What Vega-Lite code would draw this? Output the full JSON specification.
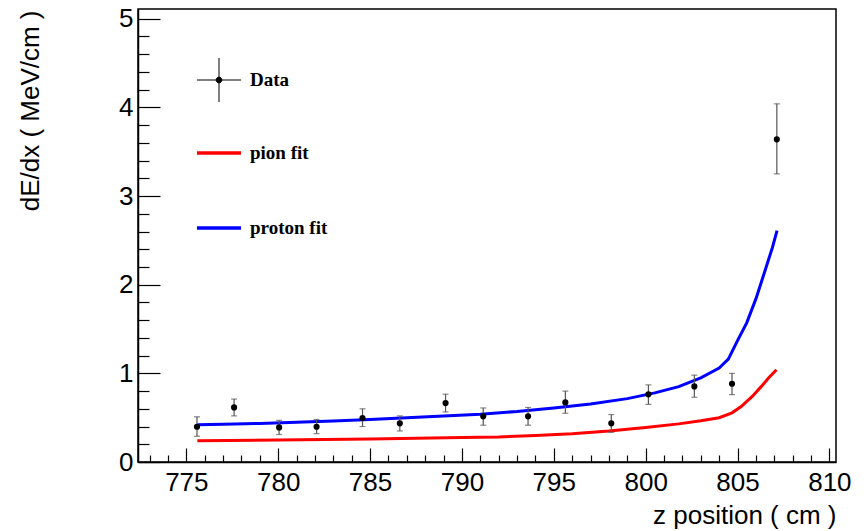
{
  "$schema": "https://vega.github.io/schema/vega-lite/v6.json",
  "width": 698,
  "height": 453,
  "autosize": "none",
  "padding": {"left": 138, "top": 9, "right": 30, "bottom": 69},
  "background": "white",
  "config": {
    "view": {"stroke": "black", "strokeWidth": 1.5},
    "axis": {"grid": false, "domainColor": "black", "domainWidth": 1.5, "tickColor": "black", "tickWidth": 1.2, "tickCount": 200, "labelFont": "Liberation Sans", "labelFontSize": 26, "labelColor": "black", "titleFont": "Liberation Sans", "titleFontSize": 26, "titleFontWeight": "normal", "titleColor": "black", "labelOverlap": false, "labelFlush": false, "labelBound": false}
  },
  "datasets": {
    "points": [
      {"z": 775.58, "v": 0.398, "lo": 0.29, "hi": 0.51, "series": "Data"},
      {"z": 777.6, "v": 0.616, "lo": 0.52, "hi": 0.71, "series": "Data"},
      {"z": 780.05, "v": 0.39, "lo": 0.31, "hi": 0.47, "series": "Data"},
      {"z": 782.09, "v": 0.398, "lo": 0.32, "hi": 0.48, "series": "Data"},
      {"z": 784.59, "v": 0.496, "lo": 0.4, "hi": 0.6, "series": "Data"},
      {"z": 786.62, "v": 0.436, "lo": 0.35, "hi": 0.52, "series": "Data"},
      {"z": 789.11, "v": 0.665, "lo": 0.565, "hi": 0.765, "series": "Data"},
      {"z": 791.16, "v": 0.515, "lo": 0.415, "hi": 0.61, "series": "Data"},
      {"z": 793.6, "v": 0.515, "lo": 0.415, "hi": 0.615, "series": "Data"},
      {"z": 795.63, "v": 0.672, "lo": 0.55, "hi": 0.8, "series": "Data"},
      {"z": 798.13, "v": 0.436, "lo": 0.335, "hi": 0.535, "series": "Data"},
      {"z": 800.15, "v": 0.763, "lo": 0.65, "hi": 0.87, "series": "Data"},
      {"z": 802.65, "v": 0.853, "lo": 0.73, "hi": 0.98, "series": "Data"},
      {"z": 804.7, "v": 0.883, "lo": 0.76, "hi": 1.0, "series": "Data"},
      {"z": 807.14, "v": 3.64, "lo": 3.25, "hi": 4.04, "series": "Data"}
    ],
    "fits": [
      {"z": 775.6, "dedx": 0.24, "series": "pion fit"},
      {"z": 780, "dedx": 0.247, "series": "pion fit"},
      {"z": 785, "dedx": 0.26, "series": "pion fit"},
      {"z": 790, "dedx": 0.276, "series": "pion fit"},
      {"z": 792, "dedx": 0.283, "series": "pion fit"},
      {"z": 794, "dedx": 0.3, "series": "pion fit"},
      {"z": 796, "dedx": 0.32, "series": "pion fit"},
      {"z": 798, "dedx": 0.35, "series": "pion fit"},
      {"z": 800, "dedx": 0.39, "series": "pion fit"},
      {"z": 801.8, "dedx": 0.43, "series": "pion fit"},
      {"z": 803, "dedx": 0.465, "series": "pion fit"},
      {"z": 804, "dedx": 0.5, "series": "pion fit"},
      {"z": 804.7, "dedx": 0.555, "series": "pion fit"},
      {"z": 805.2, "dedx": 0.625, "series": "pion fit"},
      {"z": 805.8, "dedx": 0.74, "series": "pion fit"},
      {"z": 806.3, "dedx": 0.853, "series": "pion fit"},
      {"z": 806.7, "dedx": 0.95, "series": "pion fit"},
      {"z": 807.12, "dedx": 1.04, "series": "pion fit"},
      {"z": 775.6, "dedx": 0.42, "series": "proton fit"},
      {"z": 777, "dedx": 0.425, "series": "proton fit"},
      {"z": 779, "dedx": 0.435, "series": "proton fit"},
      {"z": 781, "dedx": 0.447, "series": "proton fit"},
      {"z": 783, "dedx": 0.462, "series": "proton fit"},
      {"z": 785, "dedx": 0.48, "series": "proton fit"},
      {"z": 787, "dedx": 0.5, "series": "proton fit"},
      {"z": 789, "dedx": 0.52, "series": "proton fit"},
      {"z": 791, "dedx": 0.54, "series": "proton fit"},
      {"z": 793, "dedx": 0.57, "series": "proton fit"},
      {"z": 795, "dedx": 0.61, "series": "proton fit"},
      {"z": 797, "dedx": 0.655, "series": "proton fit"},
      {"z": 799, "dedx": 0.715, "series": "proton fit"},
      {"z": 800.5, "dedx": 0.78, "series": "proton fit"},
      {"z": 801.8, "dedx": 0.85, "series": "proton fit"},
      {"z": 803, "dedx": 0.95, "series": "proton fit"},
      {"z": 804, "dedx": 1.06, "series": "proton fit"},
      {"z": 804.5, "dedx": 1.16, "series": "proton fit"},
      {"z": 805, "dedx": 1.37, "series": "proton fit"},
      {"z": 805.5, "dedx": 1.57, "series": "proton fit"},
      {"z": 806, "dedx": 1.84, "series": "proton fit"},
      {"z": 806.5, "dedx": 2.16, "series": "proton fit"},
      {"z": 806.9, "dedx": 2.42, "series": "proton fit"},
      {"z": 807.15, "dedx": 2.61, "series": "proton fit"}
    ]
  },
  "layer": [
    {
      "data": {"name": "fits"},
      "mark": {"type": "line", "strokeWidth": 3, "clip": true},
      "encoding": {
        "x": {
          "field": "z", "type": "quantitative",
          "scale": {"domain": [772.37, 810.36], "nice": false, "zero": false},
          "axis": {
            "title": "z position ( cm )",
            "values": [773,774,775,776,777,778,779,780,781,782,783,784,785,786,787,788,789,790,791,792,793,794,795,796,797,798,799,800,801,802,803,804,805,806,807,808,809,810],
            "tickCount": 200,
            "format": "d",
            "labelExpr": "datum.value % 5 === 0 ? datum.label : ''",
            "tickSize": {"condition": {"test": "datum.value % 5 === 0", "value": -14}, "value": -7},
            "labelPadding": 21,
            "labelBaseline": "top",
            "titleAnchor": "end",
            "titleAlign": "right",
            "titleBaseline": "alphabetic",
            "titleX": 698,
            "titleY": 61
          }
        },
        "y": {
          "field": "dedx", "type": "quantitative",
          "scale": {"domain": [0, 5.11], "nice": false, "zero": false},
          "axis": {
            "title": "dE/dx ( MeV/cm )",
            "values": [0,0.2,0.4,0.6,0.8,1,1.2,1.4,1.6,1.8,2,2.2,2.4,2.6,2.8,3,3.2,3.4,3.6,3.8,4,4.2,4.4,4.6,4.8,5],
            "tickCount": 200,
            "labelExpr": "abs(datum.value - round(datum.value)) < 0.01 ? format(datum.value, 'd') : ''",
            "tickSize": {"condition": {"test": "abs(datum.value - round(datum.value)) < 0.01", "value": -22}, "value": -11},
            "labelPadding": 27,
            "labelAlign": "right",
            "labelBaseline": "middle",
            "titleAnchor": "end",
            "titleAngle": -90,
            "titleAlign": "right",
            "titleBaseline": "alphabetic",
            "titleX": -100,
            "titleY": 1
          }
        },
        "color": {
          "field": "series", "type": "nominal",
          "scale": {"domain": ["Data", "pion fit", "proton fit"], "range": ["black", "#ff0000", "#0000ff"]},
          "legend": {
            "title": null,
            "orient": "none",
            "legendX": 59,
            "legendY": 49,
            "padding": 0,
            "rowPadding": 23,
            "labelOffset": 9,
            "labelFont": "Liberation Serif",
            "labelFontWeight": "bold",
            "labelFontSize": 19,
            "labelColor": "black",
            "labelLimit": 0,
            "symbolSize": 1936,
            "symbolStrokeWidth": 1,
            "encode": {
              "symbols": {
                "update": {
                  "shape": {"signal": "datum.value === 'Data' ? 'M-1,0H1M0,-1V1M0,-0.13A0.13,0.13,0,1,1,0,0.13A0.13,0.13,0,1,1,0,-0.13Z' : 'M0,-0.84M-1,0H1M0,0.84'"},
                  "size": {"value": 1936},
                  "x": {"value": 22},
                  "y": {"value": 22},
                  "strokeWidth": {"signal": "datum.value === 'Data' ? 1 : 3.5"},
                  "stroke": {"signal": "datum.value === 'Data' ? '#333' : (datum.value === 'pion fit' ? '#ff0000' : '#0000ff')"},
                  "fill": {"signal": "datum.value === 'Data' ? 'black' : 'transparent'"},
                  "opacity": {"value": 1},
                  "strokeOpacity": {"value": 1},
                  "fillOpacity": {"value": 1}
                }
              },
              "labels": {
                "update": {
                  "x": {"value": 53},
                  "y": {"value": 22},
                  "baseline": {"value": "middle"}
                }
              }
            }
          }
        }
      }
    },
    {
      "data": {"name": "points"},
      "mark": {"type": "rule", "color": "#555", "strokeWidth": 1.2},
      "encoding": {
        "x": {"field": "z", "type": "quantitative"},
        "y": {"field": "lo", "type": "quantitative"},
        "y2": {"field": "hi"}
      }
    },
    {
      "data": {"name": "points"},
      "mark": {"type": "tick", "orient": "horizontal", "size": 6, "thickness": 1.2, "color": "#555"},
      "encoding": {
        "x": {"field": "z", "type": "quantitative"},
        "y": {"field": "lo", "type": "quantitative"}
      }
    },
    {
      "data": {"name": "points"},
      "mark": {"type": "tick", "orient": "horizontal", "size": 6, "thickness": 1.2, "color": "#555"},
      "encoding": {
        "x": {"field": "z", "type": "quantitative"},
        "y": {"field": "hi", "type": "quantitative"}
      }
    },
    {
      "data": {"name": "points"},
      "mark": {"type": "circle", "size": 38, "opacity": 1},
      "encoding": {
        "x": {"field": "z", "type": "quantitative"},
        "y": {"field": "v", "type": "quantitative"},
        "color": {"field": "series", "type": "nominal"}
      }
    }
  ]
}
